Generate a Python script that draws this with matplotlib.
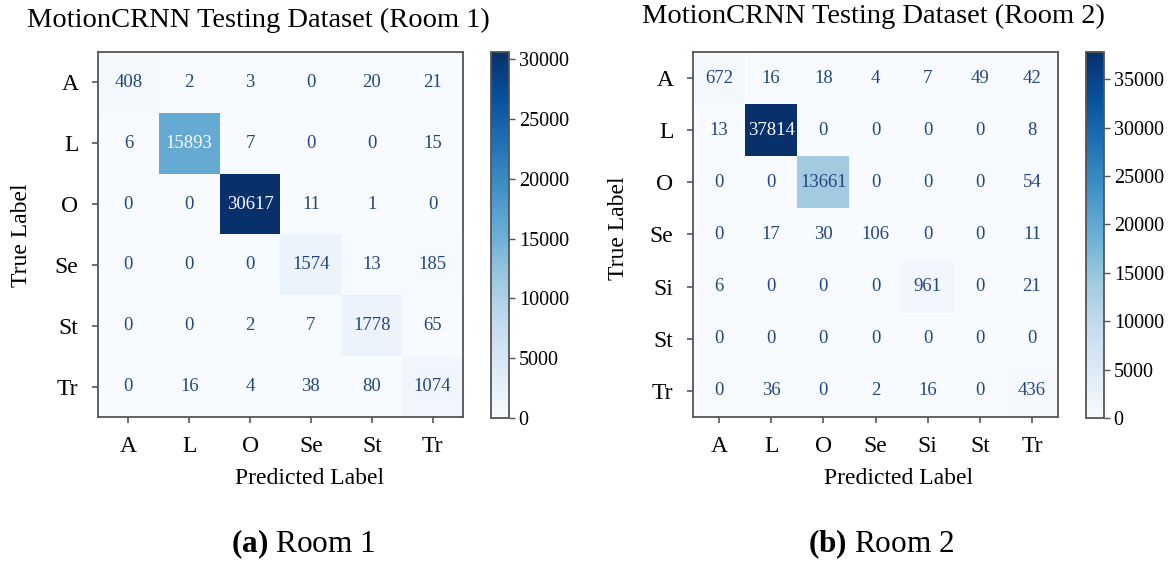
import numpy as np
import matplotlib
matplotlib.use("Agg")
import matplotlib.pyplot as plt
from matplotlib.colors import Normalize

plt.rcParams['font.family'] = ['Liberation Serif', 'DejaVu Serif']
plt.rcParams['mathtext.fontset'] = 'custom'
plt.rcParams['mathtext.rm'] = 'Liberation Serif'
plt.rcParams['mathtext.bf'] = 'Liberation Serif:bold'

# Room 1 confusion matrix
labels_room1 = ["A", "L", "O", "Se", "St", "Tr"]
cm_room1 = np.array([
    [408, 2, 3, 0, 20, 21],
    [6, 15893, 7, 0, 0, 15],
    [0, 0, 30617, 11, 1, 0],
    [0, 0, 0, 1574, 13, 185],
    [0, 0, 2, 7, 1778, 65],
    [0, 16, 4, 38, 80, 1074],
])
cbar_ticks_room1 = [0, 5000, 10000, 15000, 20000, 25000, 30000]

# Room 2 confusion matrix
labels_room2 = ["A", "L", "O", "Se", "Si", "St", "Tr"]
cm_room2 = np.array([
    [672, 16, 18, 4, 7, 49, 42],
    [13, 37814, 0, 0, 0, 0, 8],
    [0, 0, 13661, 0, 0, 0, 54],
    [0, 17, 30, 106, 0, 0, 11],
    [6, 0, 0, 0, 961, 0, 21],
    [0, 0, 0, 0, 0, 0, 0],
    [0, 36, 0, 2, 16, 0, 436],
])
cbar_ticks_room2 = [0, 5000, 10000, 15000, 20000, 25000, 30000, 35000]

W, H = 1169, 565
fig = plt.figure(figsize=(W / 100, H / 100), dpi=100)

def box(x0, y0, x1, y1):
    return [x0 / W, 1 - y1 / H, (x1 - x0) / W, (y1 - y0) / H]

cmap = plt.get_cmap("Blues")
frame_col = "#555555"

def draw_cm(cm, labels, ax_box, cb_box, ticks, title, title_xy, xlab_xy, ylab_xy,
            caption_xy, caption_num):
    ax = fig.add_axes(box(*ax_box))
    n = len(labels)
    norm = Normalize(vmin=cm.min(), vmax=cm.max())
    im = ax.imshow(cm, cmap=cmap, norm=norm, interpolation="nearest", aspect="auto")
    thresh = (cm.max() + cm.min()) / 2.0
    for i in range(n):
        for j in range(n):
            v = cm[i, j]
            col = cmap(0.0) if v >= thresh else "#24467f"
            ax.text(j, i, f"{v}", ha="center", va="center", color=col, fontsize=13.5)
    ax.set_xticks(range(n))
    ax.set_yticks(range(n))
    ax.set_xticklabels(labels, fontsize=17)
    ax.set_yticklabels(labels, fontsize=17)
    ax.tick_params(axis="both", length=4, width=1.2, color=frame_col, pad=10)
    for s in ax.spines.values():
        s.set_color(frame_col)
        s.set_linewidth(1.3)

    cax = fig.add_axes(box(*cb_box))
    cb = fig.colorbar(im, cax=cax, ticks=ticks)
    cb.ax.tick_params(labelsize=14.5, length=4, width=1.0, color=frame_col, pad=3)
    cb.outline.set_edgecolor(frame_col)
    cb.outline.set_linewidth(1.3)

    fig.text(title_xy[0] / W, 1 - title_xy[1] / H, title, ha="center", va="center",
             fontsize=20.5)
    fig.text(xlab_xy[0] / W, 1 - xlab_xy[1] / H, "Predicted Label", ha="center",
             va="center", fontsize=17)
    fig.text(ylab_xy[0] / W, 1 - ylab_xy[1] / H, "True Label", ha="center",
             va="center", rotation=90, fontsize=17)
    fig.text(caption_xy[0] / W, 1 - caption_xy[1] / H,
             r"$\mathbf{(" + caption_num[0] + r")}$ Room " + caption_num[1],
             ha="center", va="center", fontsize=22.5)

draw_cm(cm_room1, labels_room1, (98, 52, 463, 417), (491, 52, 509, 418),
        cbar_ticks_room1, "MotionCRNN Testing Dataset (Room 1)",
        (258, 20), (310, 478), (22, 235), (303, 544), ("a", "1"))
draw_cm(cm_room2, labels_room2, (693, 52, 1058, 417), (1086, 52, 1104, 418),
        cbar_ticks_room2, "MotionCRNN Testing Dataset (Room 2)",
        (873, 16), (899, 478), (618, 228), (881, 544), ("b", "2"))

fig.savefig("out.png", dpi=100, facecolor="white")
